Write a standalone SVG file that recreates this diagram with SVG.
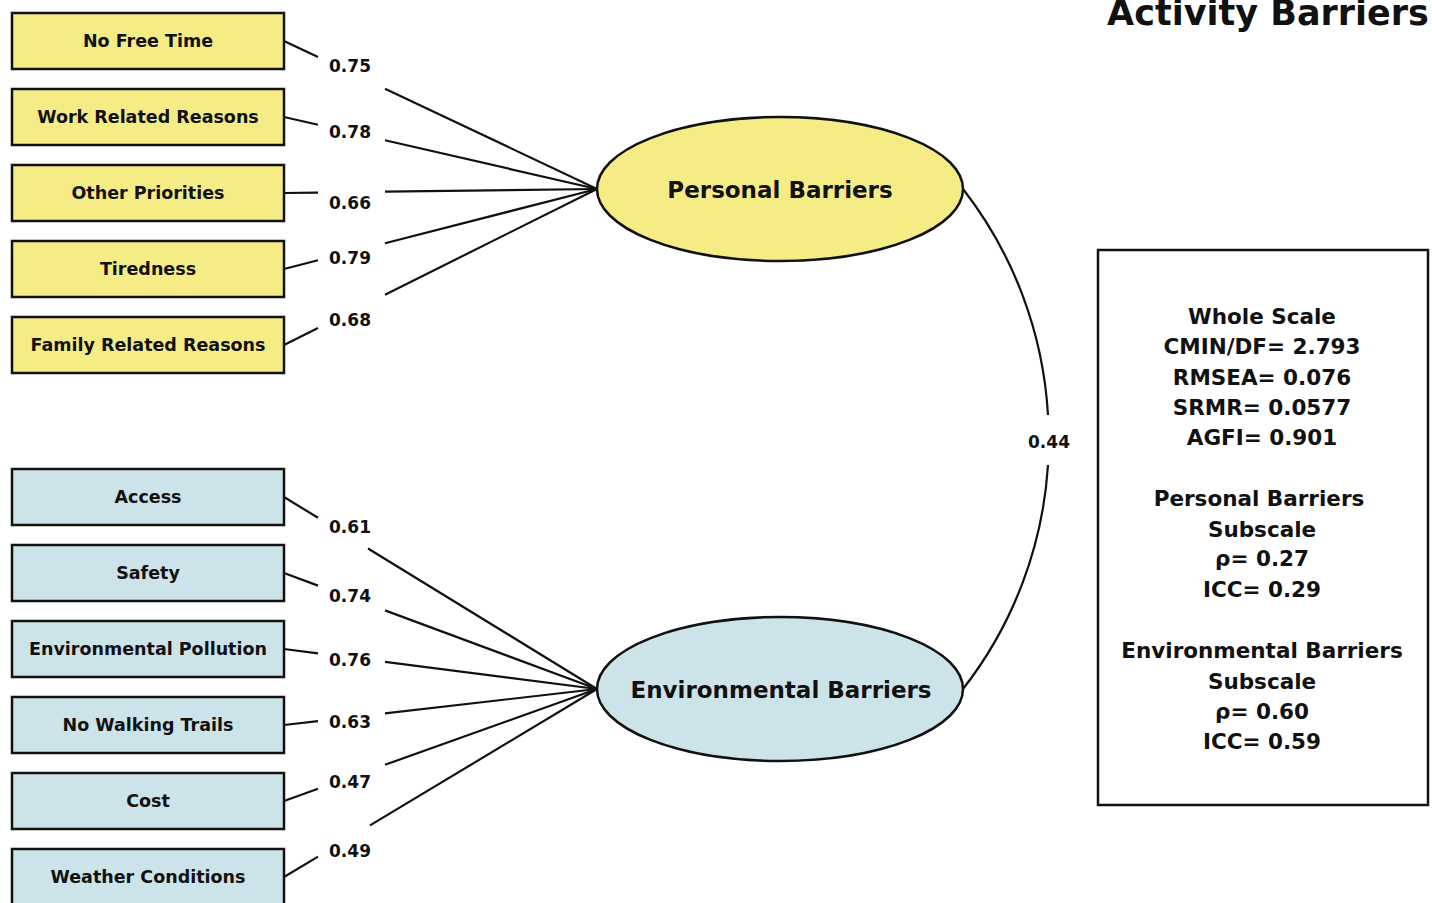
<svg xmlns="http://www.w3.org/2000/svg" width="1432" height="903" viewBox="0 0 1432 903">
<style>
.box{stroke:#111;stroke-width:2.5}
.y{fill:#F6EC86}
.b{fill:#CCE3EA}
.t{font-family:"DejaVu Sans",Verdana,sans-serif;font-weight:bold;fill:#111;text-anchor:middle}
.bt{font-size:17.5px}
.lb{font-size:17px}
.el{stroke:#111;stroke-width:2.5}
.ln{stroke:#111;stroke-width:2.2;fill:none}
.st{font-size:21.5px}
</style>
<defs>
<marker id="ah" viewBox="0 0 10 10" refX="10" refY="5" markerWidth="6" markerHeight="6" markerUnits="userSpaceOnUse" orient="auto"><path d="M0,1 L10,5 L0,9 z" fill="#111"/></marker>
</defs>
<text class="t" x="1268" y="25" style="font-size:35px">Activity Barriers</text>

<g id="connectors">
<path class="ln" d="M284,41 L318,57 M385,88.7 L597,189"/>
<path class="ln" d="M284,117 L318,124.8 M385,140.2 L597,189"/>
<path class="ln" d="M284,193 L318,192.6 M385,191.7 L597,189"/>
<path class="ln" d="M284,269 L318,260.3 M385,243.2 L597,189"/>
<path class="ln" d="M284,345 L318,328.1 M385,294.7 L597,189"/>
<path class="ln" d="M284,497 L318,517.8 M368,548.5 L597,689"/>
<path class="ln" d="M284,573 L318,585.6 M385,610.4 L597,689"/>
<path class="ln" d="M284,649 L318,653.3 M385,661.9 L597,689"/>
<path class="ln" d="M284,725 L318,721.1 M385,713.4 L597,689"/>
<path class="ln" d="M284,801 L318,788.8 M385,764.8 L597,689"/>
<path class="ln" d="M284,877 L318,856.6 M370,825.4 L597,689"/>
<path class="ln" d="M963,189 A406,406 0 0 1 1048,415 M1048,465 A406,406 0 0 1 963,689"/>
<text class="t lb" x="350" y="72">0.75</text>
<text class="t lb" x="350" y="138">0.78</text>
<text class="t lb" x="350" y="209">0.66</text>
<text class="t lb" x="350" y="264">0.79</text>
<text class="t lb" x="350" y="326">0.68</text>
<text class="t lb" x="350" y="533">0.61</text>
<text class="t lb" x="350" y="602">0.74</text>
<text class="t lb" x="350" y="666">0.76</text>
<text class="t lb" x="350" y="728">0.63</text>
<text class="t lb" x="350" y="788">0.47</text>
<text class="t lb" x="350" y="857">0.49</text>
<text class="t lb" x="1049" y="448">0.44</text>
</g>

<g id="n1"><rect class="box y" x="12" y="13" width="272" height="56"/><text class="t bt" x="148" y="47">No Free Time</text></g>
<g id="n2"><rect class="box y" x="12" y="89" width="272" height="56"/><text class="t bt" x="148" y="123">Work Related Reasons</text></g>
<g id="n3"><rect class="box y" x="12" y="165" width="272" height="56"/><text class="t bt" x="148" y="199">Other Priorities</text></g>
<g id="n4"><rect class="box y" x="12" y="241" width="272" height="56"/><text class="t bt" x="148" y="275">Tiredness</text></g>
<g id="n5"><rect class="box y" x="12" y="317" width="272" height="56"/><text class="t bt" x="148" y="351">Family Related Reasons</text></g>

<g id="n6"><rect class="box b" x="12" y="469" width="272" height="56"/><text class="t bt" x="148" y="503">Access</text></g>
<g id="n7"><rect class="box b" x="12" y="545" width="272" height="56"/><text class="t bt" x="148" y="579">Safety</text></g>
<g id="n8"><rect class="box b" x="12" y="621" width="272" height="56"/><text class="t bt" x="148" y="655">Environmental Pollution</text></g>
<g id="n9"><rect class="box b" x="12" y="697" width="272" height="56"/><text class="t bt" x="148" y="731">No Walking Trails</text></g>
<g id="n10"><rect class="box b" x="12" y="773" width="272" height="56"/><text class="t bt" x="148" y="807">Cost</text></g>
<g id="n11"><rect class="box b" x="12" y="849" width="272" height="56"/><text class="t bt" x="148" y="883">Weather Conditions</text></g>

<g id="personal"><ellipse class="el y" cx="780" cy="189" rx="183" ry="72"/><text class="t" x="780" y="198" style="font-size:23px">Personal Barriers</text></g>
<g id="environmental"><ellipse class="el b" cx="780" cy="689" rx="183" ry="72"/><text class="t" x="781" y="698" style="font-size:23px">Environmental Barriers</text></g>

<g id="stats">
<rect x="1098" y="250" width="330" height="555" fill="#fff" stroke="#111" stroke-width="2.5"/>
<text class="t st" x="1262" y="324">Whole Scale</text>
<text class="t st" x="1262" y="354">CMIN/DF= 2.793</text>
<text class="t st" x="1262" y="385">RMSEA= 0.076</text>
<text class="t st" x="1262" y="415">SRMR= 0.0577</text>
<text class="t st" x="1262" y="445">AGFI= 0.901</text>
<text class="t st" x="1259" y="506">Personal Barriers</text>
<text class="t st" x="1262" y="537">Subscale</text>
<text class="t st" x="1262" y="566">ρ= 0.27</text>
<text class="t st" x="1262" y="597">ICC= 0.29</text>
<text class="t st" x="1262" y="658">Environmental Barriers</text>
<text class="t st" x="1262" y="689">Subscale</text>
<text class="t st" x="1262" y="719">ρ= 0.60</text>
<text class="t st" x="1262" y="749">ICC= 0.59</text>
</g>
</svg>
